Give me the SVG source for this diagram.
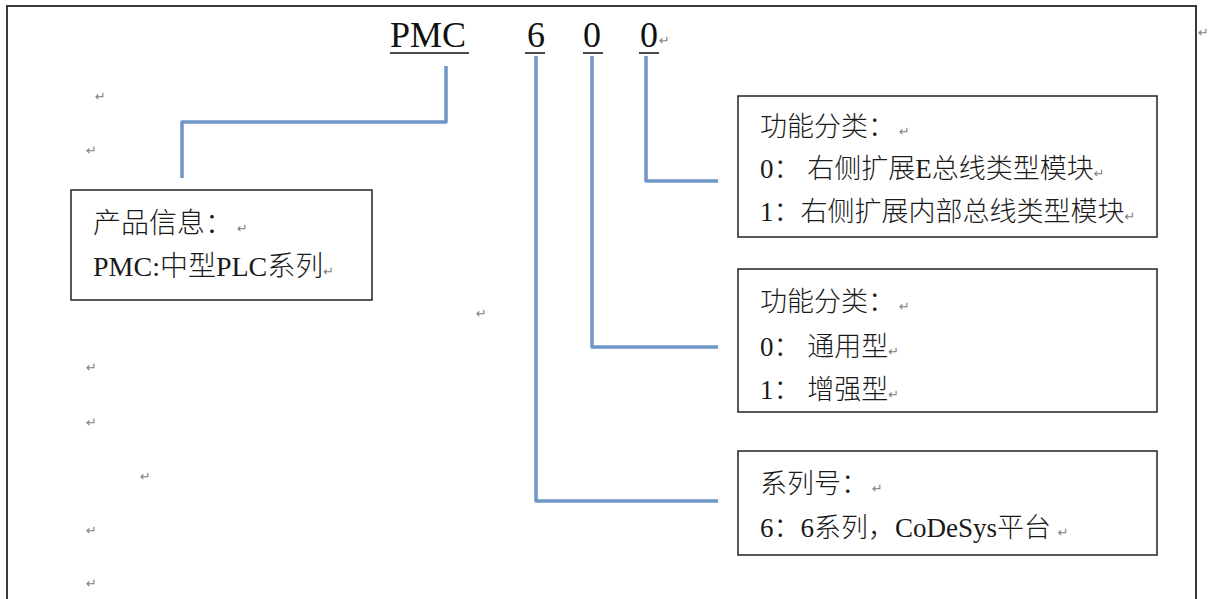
<svg xmlns="http://www.w3.org/2000/svg" width="1209" height="599" viewBox="0 0 1209 599">
<style>
.frame{fill:none;stroke:#3a3a3a;stroke-width:2}
.box{fill:#fff;stroke:#222;stroke-width:1.5}
.conn{fill:none;stroke:#6e97c6;stroke-width:3.5;stroke-linejoin:round}
.t{font-family:"Liberation Serif","Noto Sans CJK SC",serif;font-size:27px;font-weight:300;fill:#1a1a1a}
.tb{font-family:"Liberation Serif","Noto Sans CJK SC",serif;font-size:28px;font-weight:300;fill:#1a1a1a}
.title{font-family:"Liberation Serif",serif;font-size:36px;fill:#111}
.ret{font-family:"DejaVu Sans",sans-serif;font-size:13px;font-weight:400;fill:#7f7f7f}
.ul{stroke:#111;stroke-width:1.5}
</style>
<rect width="1209" height="599" fill="#fff"/>
<path class="frame" d="M7,599 V6 H1196 V599"/>
<g id="title">
  <text class="title" x="390" y="47">PMC</text>
  <text class="title" x="527" y="47">6</text>
  <text class="title" x="583" y="47">0</text>
  <text class="title" x="640" y="47">0</text>
  <text class="ret" x="659" y="45">↵</text>
  <line class="ul" x1="390" y1="53" x2="469" y2="53"/>
  <line class="ul" x1="525" y1="53" x2="545" y2="53"/>
  <line class="ul" x1="583" y1="53" x2="603" y2="53"/>
  <line class="ul" x1="639" y1="53" x2="659" y2="53"/>
</g>
<g id="connectors">
  <path class="conn" d="M446,66 V122 H182 V178"/>
  <path class="conn" d="M536,56 V501 H718"/>
  <path class="conn" d="M592,56 V347 H718"/>
  <path class="conn" d="M646,56 V181 H718"/>
</g>
<g id="product">
  <rect class="box" x="71" y="190" width="301" height="110"/>
  <text class="tb" x="93" y="233">产品信息：<tspan class="ret" dx="4">↵</tspan></text>
  <text class="tb" x="93" y="276">PMC:中型PLC系列<tspan class="ret">↵</tspan></text>
</g>
<g id="func-e">
  <rect class="box" x="738" y="96" width="419" height="141"/>
  <text class="t" x="760" y="136">功能分类：<tspan class="ret" dx="4">↵</tspan></text>
  <text class="t" x="760" y="178">0： 右侧扩展E总线类型模块<tspan class="ret">↵</tspan></text>
  <text class="t" x="760" y="221">1：右侧扩展内部总线类型模块<tspan class="ret">↵</tspan></text>
</g>
<g id="func-type">
  <rect class="box" x="738" y="269" width="419" height="143"/>
  <text class="t" x="760" y="311">功能分类：<tspan class="ret" dx="4">↵</tspan></text>
  <text class="t" x="760" y="356">0： 通用型<tspan class="ret">↵</tspan></text>
  <text class="t" x="760" y="399">1： 增强型<tspan class="ret">↵</tspan></text>
</g>
<g id="series">
  <rect class="box" x="738" y="451" width="419" height="104"/>
  <text class="t" x="760" y="493">系列号：<tspan class="ret" dx="4">↵</tspan></text>
  <text class="t" x="760" y="537">6：6系列，CoDeSys平台 <tspan class="ret">↵</tspan></text>
</g>
<g id="marks">
  <text class="ret" x="95" y="101">↵</text>
  <text class="ret" x="86" y="155">↵</text>
  <text class="ret" x="476" y="318">↵</text>
  <text class="ret" x="86" y="372">↵</text>
  <text class="ret" x="86" y="427">↵</text>
  <text class="ret" x="140" y="481">↵</text>
  <text class="ret" x="86" y="535">↵</text>
  <text class="ret" x="86" y="588">↵</text>
  <text class="ret" x="1198" y="37">↵</text>
</g>
</svg>
